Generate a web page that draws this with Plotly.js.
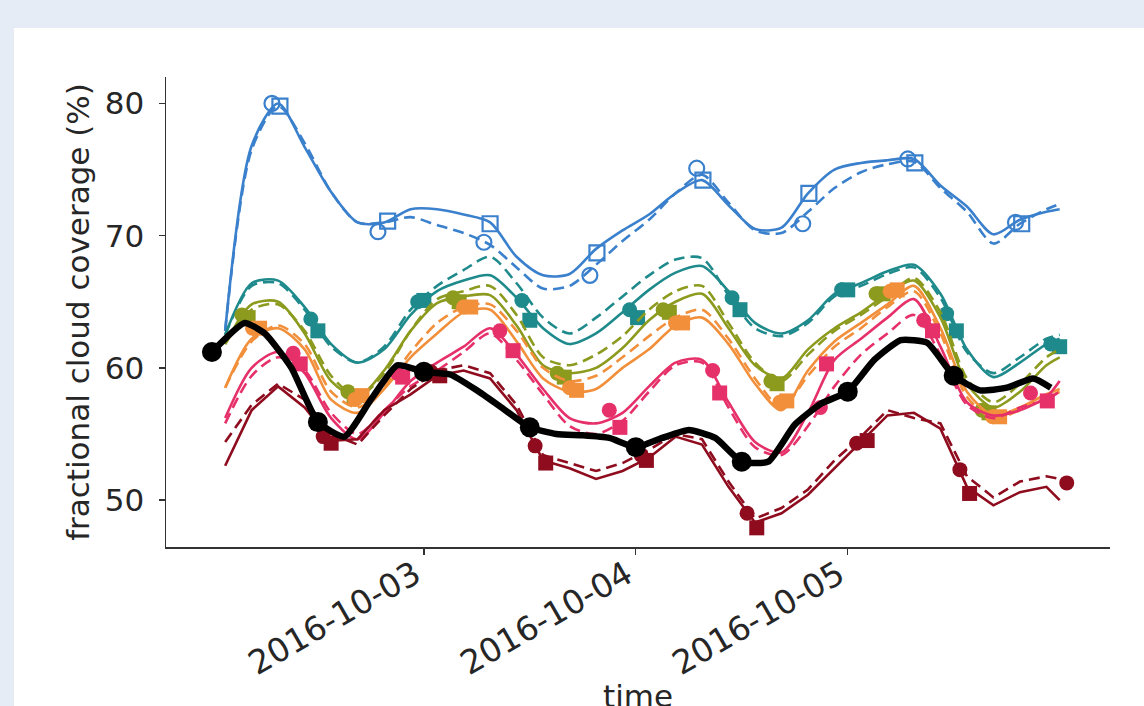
<!DOCTYPE html>
<html>
<head>
<meta charset="utf-8">
<script src="https://cdn.plot.ly/plotly-3.0.1.min.js"></script>
<style>
  html, body { margin: 0; padding: 0; background: #e5ecf6; }
  #chart { width: 1144px; height: 706px; }
</style>
</head>
<body>
<div id="chart"></div>
<script>
// Hours after 2016-10-02 00:00 shared by the coloured runs
const hours = [1.5, 4.5, 7.5, 10.5, 13.5, 16.5, 19.5, 22.5, 25.5, 28.5, 31.5, 34.5, 37.5, 40.5, 43.5, 46.5,
               49.5, 52.5, 55.5, 58.5, 61.5, 64.5, 67.5, 70.5, 73.5, 76.5, 79.5, 82.5, 85.5, 88.5, 91.5, 94.5, 96];

const blueSolid   = [62.8, 76.8, 80.0, 76.7, 73.3, 71.0, 71.0, 72.0, 72.0, 71.6, 71.0, 68.4, 67.0, 67.1, 69.0, 70.4,
                     71.6, 73.2, 74.2, 72.3, 70.5, 70.6, 73.2, 75.0, 75.5, 75.7, 75.8, 73.8, 72.2, 70.1, 71.2, 71.8, 72.0];
const blueDashed  = [62.8, 76.5, 79.8, 77.0, 73.3, 71.0, 71.0, 71.4, 70.8, 70.2, 69.3, 67.6, 66.0, 66.2, 67.8, 69.6,
                     71.2, 73.2, 74.6, 72.5, 70.4, 70.2, 71.8, 73.6, 74.8, 75.4, 75.6, 73.6, 71.8, 69.4, 70.9, 72.0, 72.4];
const tealSolid   = [62.5, 66.4, 66.6, 64.6, 61.8, 60.4, 61.4, 64.0, 65.8, 66.6, 67.0, 65.3, 63.0, 61.8, 62.6, 64.2,
                     65.9, 67.2, 67.7, 65.8, 63.4, 62.6, 63.6, 65.6, 66.4, 67.3, 67.8, 65.6, 61.4, 59.3, 60.4, 61.8, 62.2];
const tealDashed  = [62.5, 66.2, 66.4, 64.4, 61.6, 60.4, 61.6, 64.4, 66.2, 67.4, 68.4, 66.4, 63.8, 62.6, 63.8, 65.4,
                     67.0, 68.2, 68.3, 65.5, 63.0, 62.4, 63.4, 65.4, 66.2, 67.1, 67.6, 65.3, 61.2, 59.6, 60.8, 62.2, 62.5];
const oliveSolid  = [61.8, 64.8, 65.0, 62.6, 59.0, 57.8, 59.8, 62.8, 64.9, 65.4, 65.5, 63.2, 60.2, 59.6, 60.0, 61.5,
                     63.6, 65.0, 65.6, 63.0, 60.2, 59.2, 61.4, 63.0, 64.2, 65.6, 66.6, 63.8, 58.8, 57.0, 58.2, 60.2, 60.8];
const oliveDashed = [61.8, 64.4, 64.8, 62.8, 59.4, 57.8, 59.6, 62.8, 65.2, 65.8, 66.2, 64.0, 60.8, 60.2, 61.0, 62.4,
                     64.4, 65.8, 66.2, 63.4, 60.4, 59.0, 61.0, 62.8, 64.0, 65.4, 66.8, 64.2, 59.2, 57.4, 58.8, 60.8, 61.4];
const orangeSolid = [58.5, 62.2, 63.0, 61.4, 57.6, 56.6, 58.4, 60.8, 62.6, 64.2, 64.4, 62.0, 59.2, 58.2, 58.4, 60.0,
                     61.4, 63.2, 63.8, 61.8, 58.8, 56.8, 59.8, 62.0, 63.4, 64.8, 66.2, 63.0, 58.2, 56.4, 57.0, 58.0, 58.4];
const orangeDashed= [58.5, 62.0, 63.2, 61.8, 58.2, 57.0, 58.6, 61.2, 63.4, 64.6, 64.8, 62.8, 60.0, 59.0, 59.4, 60.8,
                     62.4, 63.8, 64.4, 62.2, 59.2, 57.0, 59.4, 61.6, 63.0, 64.6, 65.8, 62.6, 57.8, 56.2, 56.8, 57.8, 58.2];
const pinkSolid   = [56.2, 60.0, 61.2, 59.6, 56.2, 54.6, 56.6, 59.0, 60.4, 61.6, 63.0, 61.0, 58.4, 56.2, 55.8, 56.6,
                     58.6, 60.4, 60.6, 57.4, 54.4, 53.6, 56.6, 60.6, 62.2, 63.8, 65.2, 61.6, 57.4, 56.4, 56.8, 57.8, 59.0];
const pinkDashed  = [55.8, 59.4, 60.8, 59.8, 56.6, 55.0, 56.8, 58.6, 59.8, 61.2, 62.6, 60.6, 58.0, 55.6, 55.0, 56.0,
                     58.2, 60.2, 60.4, 57.0, 54.0, 53.4, 55.6, 58.6, 61.0, 62.6, 64.0, 61.0, 57.2, 56.2, 57.0, 57.6, 58.2];
const redSolid    = [52.6, 56.8, 58.6, 57.0, 54.5, 54.6, 56.8, 58.0, 59.4, 59.8, 59.2, 56.8, 53.0, 52.4, 51.6, 52.2,
                     53.2, 54.8, 54.2, 51.0, 48.3, 49.0, 50.4, 52.4, 54.4, 56.4, 56.6, 55.4, 51.0, 49.6, 50.6, 51.0, 50.0];
const redDashed   = [54.4, 57.2, 58.8, 57.6, 55.0, 54.2, 56.4, 58.4, 59.8, 60.2, 59.6, 57.2, 53.4, 52.8, 52.2, 52.8,
                     53.8, 55.0, 54.6, 51.4, 48.6, 49.4, 50.8, 53.0, 54.8, 56.8, 56.2, 55.8, 51.8, 50.2, 51.4, 51.8, 51.6];

// Marked samples (hours, values) for each colour
const blueCircH  = [6.8, 18.8, 30.8, 42.8, 54.9, 66.9, 78.8, 91.0];
const blueCircV  = [80.0, 70.3, 69.5, 67.0, 75.1, 70.9, 75.8, 71.0];
const blueSqH    = [7.7, 19.9, 31.5, 43.6, 55.6, 67.6, 79.6, 91.7];
const blueSqV    = [79.8, 71.1, 70.9, 68.7, 74.2, 73.2, 75.5, 70.9];
const tealCircH  = [11.2, 23.3, 35.1, 47.3, 58.9, 71.3, 83.2, 95.0];
const tealCircV  = [63.7, 65.0, 65.1, 64.4, 65.3, 65.9, 64.1, 61.8];
const tealSqH    = [12.0, 24.0, 36.0, 48.2, 59.8, 72.0, 84.3, 96.0];
const tealSqV    = [62.8, 65.1, 63.6, 63.8, 64.4, 65.9, 62.8, 61.6];
const oliveCircH = [3.4, 15.4, 27.3, 39.1, 51.1, 63.3, 75.2, 87.2];
const oliveCircV = [64.0, 58.2, 65.3, 59.6, 64.4, 59.0, 65.6, 56.8];
const oliveSqH   = [4.1, 16.1, 28.0, 39.9, 51.8, 64.0, 76.0, 88.0];
const oliveSqV   = [63.8, 57.8, 65.0, 59.3, 64.2, 58.8, 65.6, 56.6];
const orangeCircH= [4.6, 16.2, 28.5, 40.5, 52.5, 64.3, 76.8, 88.4];
const orangeCircV= [63.0, 57.6, 64.6, 58.5, 63.4, 57.4, 65.8, 56.3];
const orangeSqH  = [5.4, 17.0, 29.3, 41.3, 53.3, 65.1, 77.6, 89.2];
const orangeSqV  = [63.0, 57.9, 64.6, 58.3, 63.4, 57.5, 65.9, 56.3];
const pinkCircH  = [9.2, 21.0, 32.6, 45.0, 56.7, 68.9, 80.6, 92.7];
const pinkCircV  = [61.1, 59.6, 62.8, 56.8, 59.8, 57.0, 63.6, 58.1];
const pinkSqH    = [10.0, 21.6, 34.1, 46.2, 57.5, 69.6, 81.6, 94.6];
const pinkSqV    = [60.3, 59.3, 61.3, 55.5, 58.1, 60.3, 62.8, 57.5];
const redCircH   = [12.6, 24.8, 36.6, 48.6, 60.6, 73.0, 84.7, 96.8];
const redCircV   = [54.8, 59.7, 54.1, 53.4, 49.0, 54.3, 52.3, 51.3];
const redSqH     = [13.5, 25.8, 37.8, 49.2, 61.7, 74.2, 85.8];
const redSqV     = [54.3, 59.4, 52.8, 53.0, 47.9, 54.5, 50.5];

// Observed run (thick black)
const obsHours  = [0, 3.7, 6, 9, 12, 15, 18, 21, 24, 27, 30, 33, 36, 39, 42, 45, 48, 51, 54, 57, 60, 63, 66,
                   69, 72, 75, 78, 81, 84, 87, 90, 93, 95];
const obsValues = [61.2, 63.4, 62.6, 60.0, 55.9, 54.8, 57.6, 60.2, 59.7, 59.5, 58.3, 56.9, 55.5, 55.0, 54.9, 54.7,
                   54.0, 54.7, 55.3, 54.7, 52.9, 52.9, 55.7, 57.3, 58.2, 60.6, 62.1, 61.9, 59.4, 58.3, 58.5, 59.2, 58.5];

const tickDates = ['2016-10-03', '2016-10-04', '2016-10-05'];

const BASE = Date.UTC(2016, 9, 2, 0, 0, 0);
function toDate(h) {
  return new Date(BASE + h * 3600e3).toISOString().replace('T', ' ').slice(0, 19);
}
const dates = a => a.map(toDate);

const groups = [
  {color: '#3a80cc', solid: blueSolid,   dashed: blueDashed,   cH: blueCircH,   cV: blueCircV,   sH: blueSqH,   sV: blueSqV,   open: true, smooth: true},
  {color: '#1f8a8c', solid: tealSolid,   dashed: tealDashed,   cH: tealCircH,   cV: tealCircV,   sH: tealSqH,   sV: tealSqV,   smooth: true},
  {color: '#8c9a1e', solid: oliveSolid,  dashed: oliveDashed,  cH: oliveCircH,  cV: oliveCircV,  sH: oliveSqH,  sV: oliveSqV,  smooth: true},
  {color: '#f28f3b', solid: orangeSolid, dashed: orangeDashed, cH: orangeCircH, cV: orangeCircV, sH: orangeSqH, sV: orangeSqV, smooth: true},
  {color: '#e6306a', solid: pinkSolid,   dashed: pinkDashed,   cH: pinkCircH,   cV: pinkCircV,   sH: pinkSqH,   sV: pinkSqV,   smooth: true},
  {color: '#8e0c1e', solid: redSolid,    dashed: redDashed,    cH: redCircH,    cV: redCircV,    sH: redSqH,    sV: redSqV,    smooth: false}
];

const traces = [];
const x = dates(hours);
groups.forEach(g => {
  const shape = g.smooth ? {shape: 'spline', smoothing: 0.8} : {shape: 'linear'};
  traces.push({x, y: g.solid, mode: 'lines', line: Object.assign({color: g.color, width: 2.6}, shape), hoverinfo: 'skip'});
  traces.push({x, y: g.dashed, mode: 'lines', line: Object.assign({color: g.color, width: 2.6, dash: '11px,6px'}, shape), hoverinfo: 'skip'});
  const mk = (sym, size) => g.open
    ? {symbol: sym + '-open', size: size, color: g.color, line: {color: g.color, width: 2.2}}
    : {symbol: sym, size: size, color: g.color, line: {width: 0}};
  traces.push({x: dates(g.cH), y: g.cV, mode: 'markers', marker: mk('circle', 15), hoverinfo: 'skip'});
  traces.push({x: dates(g.sH), y: g.sV, mode: 'markers', marker: mk('square', 15), hoverinfo: 'skip'});
});

// observed run, with a marker every 12 hours
traces.push({x: dates(obsHours), y: obsValues, mode: 'lines',
             line: {color: '#000000', width: 6.5, shape: 'spline', smoothing: 0.5}, hoverinfo: 'skip'});
const obsMarkIdx = obsHours.map((h, i) => (h % 12 === 0 ? i : -1)).filter(i => i >= 0);
traces.push({x: obsMarkIdx.map(i => toDate(obsHours[i])), y: obsMarkIdx.map(i => obsValues[i]),
             mode: 'markers', marker: {symbol: 'circle', size: 20, color: '#000000'}, hoverinfo: 'skip'});

const FONT = 'DejaVu Sans, sans-serif';
const TEXT = '#262626';
const layout = {
  width: 1144, height: 706,
  showlegend: false,
  paper_bgcolor: '#e5ecf6',
  plot_bgcolor: '#ffffff',
  margin: {l: 166, r: 34, t: 77, b: 159, pad: 0},
  font: {family: FONT, size: 31, color: TEXT},
  xaxis: {
    type: 'date',
    range: [toDate(-5.2), toDate(101.7)],
    showgrid: false, zeroline: false,
    showline: true, linecolor: '#333333', linewidth: 1.5,
    ticks: 'outside', ticklen: 6, tickwidth: 1.3, tickcolor: '#333333',
    tickvals: tickDates, ticktext: tickDates,
    tickangle: -30,
    ticklabelstandoff: -12,
    ticklabelshift: -9,
    tickfont: {family: FONT, size: 33, color: TEXT}
  },
  yaxis: {
    range: [46.45, 82.0],
    showgrid: false, zeroline: false,
    showline: true, linecolor: '#333333', linewidth: 1.5,
    ticks: 'outside', ticklen: 6, tickwidth: 1.3, tickcolor: '#333333',
    tickvals: [50, 60, 70, 80],
    ticklabelstandoff: 8,
    tickfont: {family: FONT, size: 31, color: TEXT},
    title: {text: 'fractional cloud coverage (%)', font: {family: FONT, size: 31, color: TEXT}, standoff: 6}
  },
  // x-axis caption sits low, running into the lower edge of the page
  annotations: [{
    text: 'time', xref: 'paper', yref: 'paper', x: 0.5, y: -0.318,
    xanchor: 'center', yanchor: 'middle', showarrow: false,
    font: {family: FONT, size: 31, color: TEXT}
  }],
  shapes: [{
    type: 'rect', xref: 'paper', yref: 'paper', layer: 'below',
    x0: -0.161, x1: 1.2, y0: -0.6, y1: 1.1043,
    fillcolor: '#ffffff', line: {width: 0}
  }]
};

Plotly.newPlot('chart', traces, layout, {staticPlot: true, displayModeBar: false});
</script>
</body>
</html>
